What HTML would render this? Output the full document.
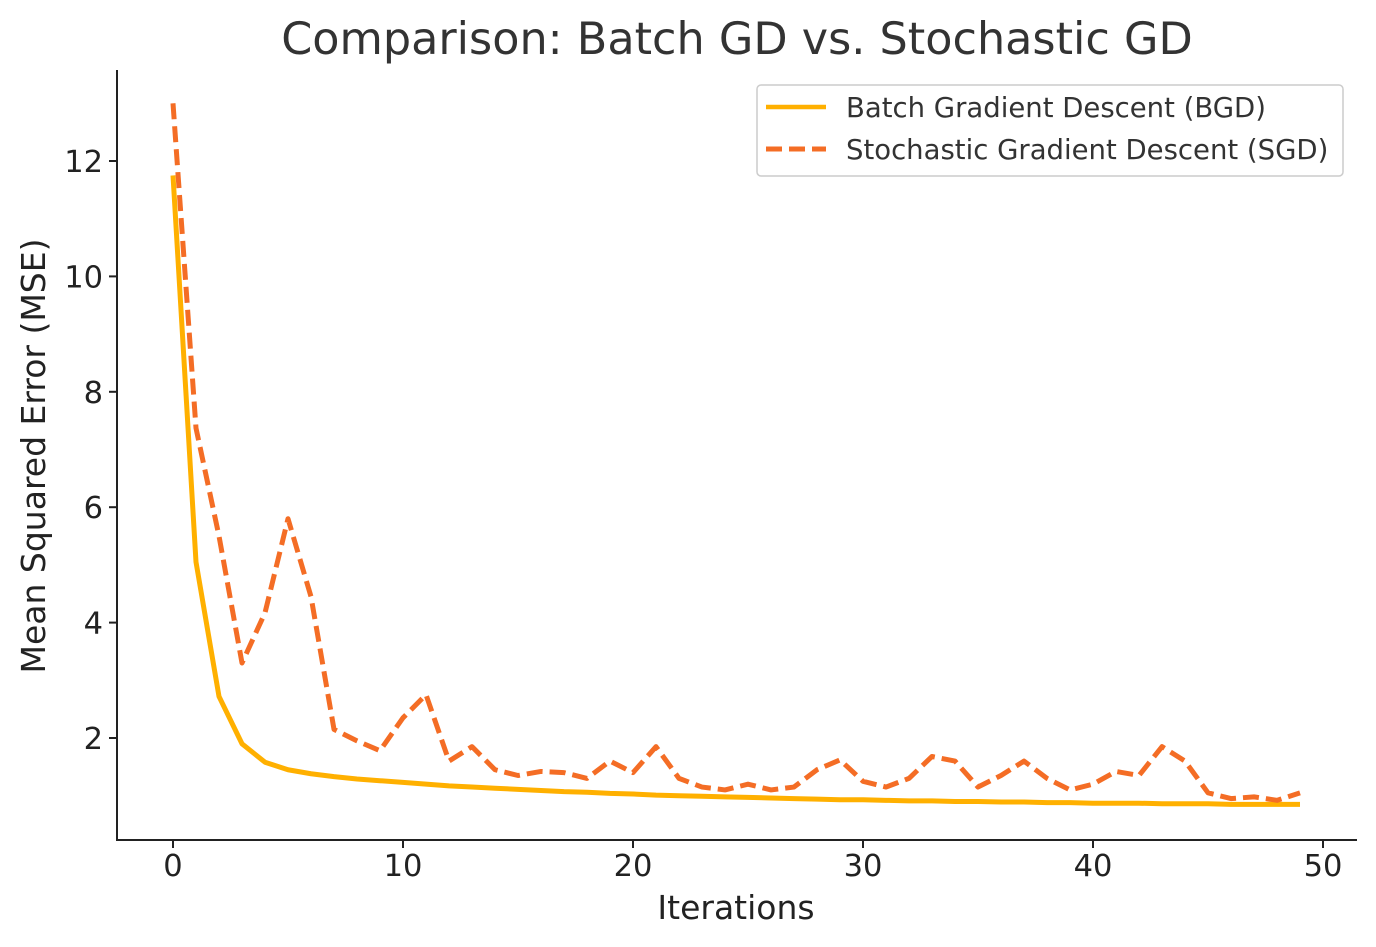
<!DOCTYPE html>
<html><head><meta charset="utf-8"><style>
html,body{margin:0;padding:0;background:#fff;}
svg{display:block;font-family:"DejaVu Sans","Liberation Sans",sans-serif;}
</style></head><body>
<svg id="chart" width="1376" height="947" viewBox="0 0 1376 947">
<text x="737" y="54" font-size="44.5" fill="#333" text-anchor="middle">Comparison: Batch GD vs. Stochastic GD</text>
<g id="axes"></g>
<g id="series"></g>
<g>
<rect x="757" y="85" width="586" height="91" rx="4" fill="#fff" stroke="#ccc" stroke-width="1.5"/>
<line x1="766" y1="107" x2="826" y2="107" stroke="#FFB000" stroke-width="4.5"/>
<text x="846" y="117" font-size="27.5" fill="#333">Batch Gradient Descent (BGD)</text>
<line x1="766" y1="149" x2="826" y2="149" stroke="#F46D25" stroke-width="5" stroke-dasharray="16,7"/>
<text x="846" y="159" font-size="27.5" fill="#333">Stochastic Gradient Descent (SGD)</text>
</g>
<text x="736" y="919" font-size="33" fill="#222" text-anchor="middle">Iterations</text>
<text transform="translate(45,456) rotate(-90)" font-size="33" fill="#222" text-anchor="middle">Mean Squared Error (MSE)</text>
</svg>
<script>
const bgdValues=[11.75,5.05,2.72,1.9,1.58,1.45,1.38,1.33,1.29,1.26,1.23,1.2,1.17,1.15,1.13,1.11,1.09,1.07,1.06,1.04,1.03,1.01,1.0,0.99,0.98,0.97,0.96,0.95,0.94,0.93,0.93,0.92,0.91,0.91,0.9,0.9,0.89,0.89,0.88,0.88,0.87,0.87,0.87,0.86,0.86,0.86,0.85,0.85,0.85,0.85];
const sgdValues=[13.0,7.37,5.5,3.3,4.17,5.8,4.45,2.15,1.95,1.78,2.35,2.75,1.6,1.85,1.45,1.35,1.42,1.4,1.3,1.6,1.4,1.85,1.3,1.15,1.1,1.2,1.1,1.15,1.45,1.62,1.25,1.15,1.3,1.68,1.6,1.15,1.35,1.6,1.3,1.1,1.2,1.42,1.35,1.85,1.6,1.05,0.95,0.98,0.92,1.05];
const xTicks=[0,10,20,30,40,50];
const yTicks=[2,4,6,8,10,12];
const NS="http://www.w3.org/2000/svg";
const X=v=>173+v*23;
const Y=v=>853.4-v*57.7;
const axes=document.getElementById('axes'),series=document.getElementById('series');
function mk(tag,attrs,parent){const e=document.createElementNS(NS,tag);for(const k in attrs)e.setAttribute(k,attrs[k]);parent.appendChild(e);return e;}
let e=mk('line',{x1:117,y1:70,x2:117,y2:840,stroke:'#222','stroke-width':2},axes);


e=mk('line',{x1:116,y1:840,x2:1357,y2:840,stroke:'#222','stroke-width':2},axes);


xTicks.forEach(t=>{
 const l=mk('line',{x1:X(t),y1:840,x2:X(t),y2:848,stroke:'#222','stroke-width':2},axes);
 
 
 const tx=mk('text',{x:X(t),y:876,'font-size':30.5,fill:'#222','text-anchor':'middle'},axes);
 tx.textContent=t;
 
 
});
yTicks.forEach(t=>{
 const l=mk('line',{x1:109,y1:Y(t),x2:117,y2:Y(t),stroke:'#222','stroke-width':2},axes);
 
 
 const tx=mk('text',{x:103,y:Y(t)+11,'font-size':30.5,fill:'#222','text-anchor':'end'},axes);
 tx.textContent=t;
 
 
});
const pts=a=>a.map((v,i)=>X(i)+','+Y(v)).join(' ');
e=mk('polyline',{points:pts(bgdValues),fill:'none',stroke:'#FFB000','stroke-width':5,'stroke-linejoin':'round'},series);


e=mk('polyline',{points:pts(sgdValues),fill:'none',stroke:'#F46D25','stroke-width':5,'stroke-dasharray':'16,7','stroke-linejoin':'round'},series);


</script>
</body></html>
